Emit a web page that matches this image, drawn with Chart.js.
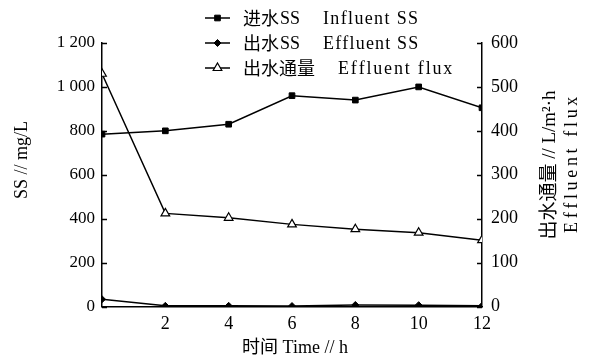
<!DOCTYPE html>
<html>
<head>
<meta charset="utf-8">
<script src="https://cdn.jsdelivr.net/npm/chart.js@4.4.1/dist/chart.umd.min.js"></script>
<style>
html,body{margin:0;padding:0;background:#fff;}
#wrap{width:593px;height:358px;position:relative;}
</style>
</head>
<body>
<div id="wrap"><canvas id="c" width="593" height="358"></canvas></div>
<script>
// ---- data ----
const times = [0, 2, 4, 6, 8, 10, 12];
const influentSS = [785, 800, 830, 960, 940, 1000, 905];
const effluentSS = [33, 3, 3, 2, 7, 6, 3];
const effluentFlux = [530, 212, 202, 187, 176, 168, 151];
const seriesCn = ['进水', '出水', '出水通量'];
const seriesSS = ['SS', 'SS', ''];
const seriesEn = ['Influent SS', 'Effluent SS', 'Effluent flux'];
const leftTicks = [0, 200, 400, 600, 800, 1000, 1200];
const rightTicks = [0, 100, 200, 300, 400, 500, 600];
const xTicks = [2, 4, 6, 8, 10, 12];
const xTitle = '时间 Time // h';
const yLeftTitle = 'SS // mg/L';
const yRightTitle = ['出水通量 // L/m²·h', 'Effluent flux'];

const pts = arr => times.map((t, i) => ({x: t, y: arr[i]}));
const NUMFONT = '"Liberation Serif", "Noto Sans CJK SC", serif';
const CJKFONT = '"Noto Sans CJK SC", sans-serif';

const labels = seriesCn.map((c, i) => c + seriesSS[i] + '  ' + seriesEn[i]);

const datasets = [
  {label: labels[0], data: pts(influentSS), yAxisID: 'y', borderColor: '#000', backgroundColor: '#000',
   borderWidth: 1.5, pointStyle: 'rect', pointRadius: 4, pointBorderWidth: 1, pointBackgroundColor: '#000', pointBorderColor: '#000'},
  {label: labels[1], data: pts(effluentSS), yAxisID: 'y', borderColor: '#000', backgroundColor: '#000',
   borderWidth: 1.5, pointStyle: 'rectRot', pointRadius: 3.5, pointBorderWidth: 1, pointBackgroundColor: '#000', pointBorderColor: '#000'},
  {label: labels[2], data: pts(effluentFlux), yAxisID: 'y2', borderColor: '#000', backgroundColor: '#fff',
   borderWidth: 1.5, pointStyle: 'triangle', pointRadius: 5, pointBorderWidth: 1.2, pointBackgroundColor: '#fff', pointBorderColor: '#000'}
];

function spacedText(ctx, text, x, y, targetWidth) {
  const w = ctx.measureText(text).width;
  const n = text.length;
  const sp = n > 1 ? Math.max(0, (targetWidth - w) / (n - 1)) : 0;
  let cx = x;
  const align = ctx.textAlign;
  ctx.textAlign = 'left';
  for (const ch of text) {
    ctx.fillText(ch, cx, y);
    cx += ctx.measureText(ch).width + sp;
  }
  ctx.textAlign = align;
}

const decor = {
  id: 'decor',
  afterDraw(chart) {
    const ctx = chart.ctx;
    const s = chart.scales;
    ctx.save();
    ctx.strokeStyle = '#000';
    ctx.lineWidth = 1.5;
    // inward ticks
    leftTicks.forEach(v => {
      const y = Math.round(s.y.getPixelForValue(v)) + 0.5;
      ctx.beginPath(); ctx.moveTo(s.y.right, y); ctx.lineTo(s.y.right + 5, y); ctx.stroke();
    });
    rightTicks.forEach(v => {
      const y = Math.round(s.y2.getPixelForValue(v)) + 0.5;
      ctx.beginPath(); ctx.moveTo(s.y2.left, y); ctx.lineTo(s.y2.left - 5, y); ctx.stroke();
    });
    ctx.fillStyle = '#000';
    // axis titles
    ctx.font = '18px ' + NUMFONT;
    ctx.textAlign = 'center'; ctx.textBaseline = 'middle';
    ctx.fillText(xTitle, 295, 348);
    ctx.save(); ctx.translate(22, 160); ctx.rotate(-Math.PI / 2);
    ctx.font = '18px ' + NUMFONT;
    ctx.fillText(yLeftTitle, 0, 0); ctx.restore();
    ctx.save(); ctx.translate(550, 165); ctx.rotate(-Math.PI / 2);
    ctx.font = '19px ' + NUMFONT;
    ctx.fillText(yRightTitle[0], 0, 0); ctx.restore();
    ctx.save(); ctx.translate(572, 165); ctx.rotate(-Math.PI / 2);
    ctx.font = '18px ' + NUMFONT;
    spacedText(ctx, yRightTitle[1], -68, 0, 136);
    ctx.restore();
    // legend
    const rows = [18, 43, 68];
    const enX = [323, 323, 338];
    const enW = [95, 95, 114];
    chart.data.datasets.forEach((ds, i) => {
      const y = rows[i];
      ctx.lineWidth = 1.5; ctx.strokeStyle = '#000';
      ctx.beginPath(); ctx.moveTo(205, y); ctx.lineTo(230, y); ctx.stroke();
      ctx.save();
      ctx.fillStyle = ds.pointBackgroundColor;
      ctx.strokeStyle = '#000';
      ctx.lineWidth = ds.pointBorderWidth;
      Chart.helpers.drawPoint(ctx, {pointStyle: ds.pointStyle, radius: ds.pointRadius, borderWidth: ds.pointBorderWidth, rotation: 0}, 217.5, y);
      ctx.restore();
      ctx.fillStyle = '#000';
      ctx.textAlign = 'left';
      ctx.font = '18px ' + CJKFONT;
      ctx.fillText(seriesCn[i], 243, y);
      const cw = ctx.measureText(seriesCn[i]).width;
      if (seriesSS[i]) {
        ctx.font = '18px ' + NUMFONT;
        ctx.fillText(seriesSS[i], 243 + cw + 1, y + 1);
      }
      ctx.font = '18px ' + NUMFONT;
      spacedText(ctx, seriesEn[i], enX[i], y + 1, enW[i]);
    });
    ctx.restore();
  }
};

new Chart(document.getElementById('c'), {
  type: 'line',
  data: {datasets},
  options: {
    responsive: false,
    animation: false,
    devicePixelRatio: 1,
    layout: {padding: {top: 43, left: 0, right: 0, bottom: 0}},
    plugins: {legend: {display: false}, tooltip: {enabled: false}},
    elements: {line: {tension: 0}},
    scales: {
      x: {
        type: 'linear', min: 0, max: 12,
        afterBuildTicks: sc => { sc.ticks = xTicks.map(v => ({value: v})); },
        afterFit: sc => { sc.height = 51.5; },
        grid: {display: true, drawOnChartArea: false, drawTicks: false},
        border: {display: true, color: '#000', width: 1.5},
        ticks: {color: '#000', padding: 7, font: {family: NUMFONT, size: 18}, maxRotation: 0}
      },
      y: {
        position: 'left', min: 0, max: 1200,
        afterBuildTicks: sc => { sc.ticks = leftTicks.map(v => ({value: v})); },
        afterFit: sc => { sc.width = 102; },
        grid: {display: true, drawOnChartArea: false, drawTicks: false},
        border: {display: true, color: '#000', width: 1.5},
        ticks: {color: '#000', padding: 7, font: {family: NUMFONT, size: 17},
          callback: v => v >= 1000 ? Math.floor(v / 1000) + ' ' + String(v % 1000).padStart(3, '0') : String(v)}
      },
      y2: {
        position: 'right', min: 0, max: 600,
        afterBuildTicks: sc => { sc.ticks = rightTicks.map(v => ({value: v})); },
        afterFit: sc => { sc.width = 111; },
        grid: {display: true, drawOnChartArea: false, drawTicks: false},
        border: {display: true, color: '#000', width: 1.5},
        ticks: {color: '#000', padding: 9, font: {family: NUMFONT, size: 18}}
      }
    }
  },
  plugins: [decor]
});
</script>
</body>
</html>
